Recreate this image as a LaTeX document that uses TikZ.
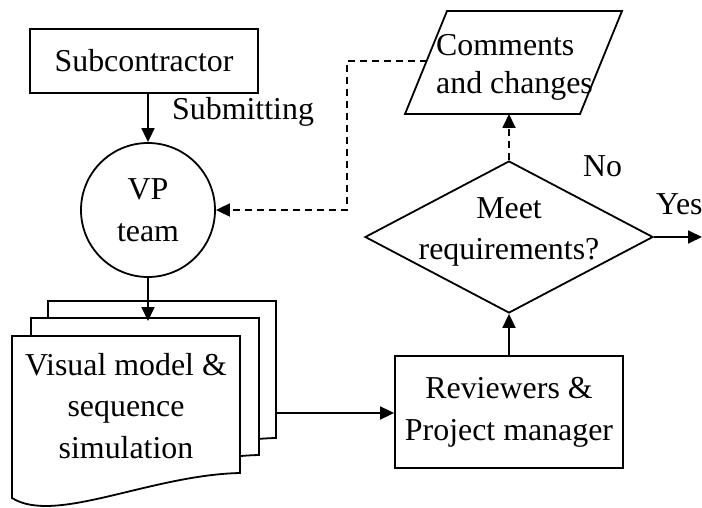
\documentclass[tikz,border=0pt]{standalone}
\usepackage{fontspec}
\setmainfont{Liberation Serif}
\usetikzlibrary{arrows.meta,shapes.geometric}
\begin{document}
\begin{tikzpicture}[x=1bp,y=-1bp,
  every node/.style={font=\fontsize{32}{42}\selectfont},
  ln/.style={line width=1.8bp},
  box/.style={draw,ln,rectangle,inner sep=0,align=center},
  arr/.style={ln,-{Triangle[length=14bp,width=13bp]}},
  dsh/.style={arr,dash pattern=on 7bp off 5bp},
  txt/.style={align=center,inner sep=0},
  lbl/.style={inner sep=0,anchor=base west},
  docshape/.style={ln,fill=white}]
\useasboundingbox (0,0) rectangle (702,508);

% Subcontractor
\node[box,minimum width=228bp,minimum height=64bp] (sub) at (144,61) {Subcontractor};
\node[lbl] (subm) at (172,120) {Submitting};

% VP team
\node[circle,draw,ln,minimum size=134bp,inner sep=0,align=center] (vp) at (148,210) {VP\\team};

% multi-document
\draw[docshape,shift={(36,-35)}] (12,336) -- (240,336) -- (240,473) .. controls (150,475) and (55,525) .. (12,498) -- cycle;
\draw[docshape,shift={(19,-18)}] (12,336) -- (240,336) -- (240,473) .. controls (150,475) and (55,525) .. (12,498) -- cycle;
\draw[docshape] (12,336) -- (240,336) -- (240,473) .. controls (150,475) and (55,525) .. (12,498) -- cycle;
\node[txt] (doct) at (126,406) {Visual model \&\\sequence\\simulation};
\coordinate (doctop) at (148,321);
\coordinate (docr) at (276,413);

% Reviewers
\node[box,minimum width=228bp,minimum height=112bp] (rev) at (509,412) {Reviewers \&\\Project manager};

% Decision
\node[diamond,draw,ln,minimum width=288bp,minimum height=152bp,inner sep=0] (dec) at (509,237) {};
\node[txt] (dect) at (509,232) {Meet\\requirements?};
\node[lbl] (no) at (583,177) {No};
\node[lbl] (yes) at (656,215) {Yes};
\coordinate (yesend) at (702,237);

% Comments parallelogram
\draw[ln] (447,11) -- (622,11) -- (580,114) -- (405,114) -- cycle;
\node[inner sep=0,align=left,anchor=west,font=\fontsize{32}{38}\selectfont] (comt) at (436,67) {Comments\\and changes};
\coordinate (combot) at (509,114);
\coordinate (comL) at (427,61);
\coordinate (bend) at (347,61);

% connectors
\draw[arr] (vp.north |- sub.south) -- (vp.north);
\draw[arr] (vp.south) -- (doctop);
\draw[arr] (docr) -- (docr -| rev.west);
\draw[arr] (rev.north) -- (dec.south);
\draw[arr] (dec.east) -- (yesend);
\draw[dsh] (dec.north) -- (combot);
\draw[dsh] (comL) -- (bend) |- (vp.east);
\end{tikzpicture}
\end{document}
